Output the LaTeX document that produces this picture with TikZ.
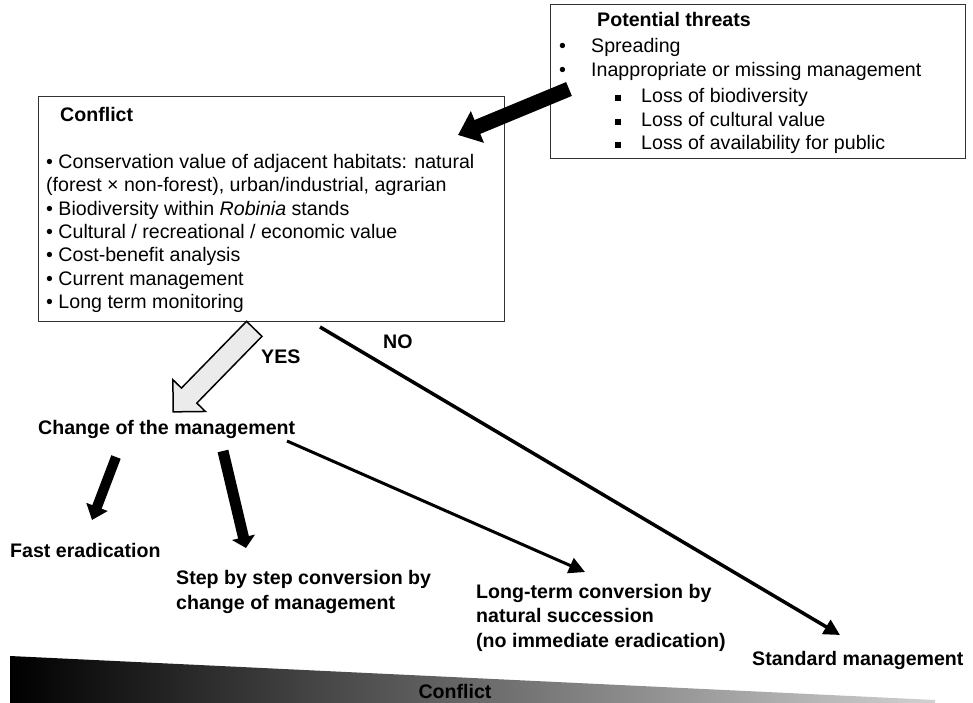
\documentclass[tikz,border=0pt]{standalone}
\usepackage{fontspec}
\setmainfont{Liberation Sans}
\usetikzlibrary{arrows.meta,shapes.arrows}

\newcommand{\sqbullet}{\rule[2pt]{6pt}{6pt}}

\tikzset{
  txt/.style={anchor=base west, inner sep=0pt, font=\fontsize{19.6}{24.5}\selectfont},
  hd/.style={txt, font=\fontsize{19.6}{24.5}\selectfont\bfseries},
  box/.style={draw=black!80, line width=1pt, anchor=north west, inner sep=0pt},
  fatarrow/.style={line width=#1, -{Triangle[length=1.4*#1, width=2.2*#1]}},
  thin/.style={line width=3.5pt, -{Triangle[length=16pt, width=16pt]}}
}

\begin{document}
\begin{tikzpicture}[x=1pt,y=-1pt]
\useasboundingbox (0,0) rectangle (973,703);

% boxes
\node [box, minimum width=415pt, minimum height=154pt] (threat) at (550,4) {};
\node [box, minimum width=466pt, minimum height=225pt] (conf) at (38,96) {};

% potential threats
\node [hd] (thead) at (597,27) {Potential threats};
\node [txt] (tb1) at (559,53) {\textbullet};
\node [txt] (ti1) at (591,53) {Spreading};
\node [txt] (tb2) at (559,77) {\textbullet};
\node [txt] (ti2) at (591,77) {Inappropriate or missing management};
\node [txt] (ts1) at (615,103) {\sqbullet};
\node [txt] (tl1) at (641,103) {Loss of biodiversity};
\node [txt] (ts2) at (615,127) {\sqbullet};
\node [txt] (tl2) at (641,127) {Loss of cultural value};
\node [txt] (ts3) at (615,150) {\sqbullet};
\node [txt] (tl3) at (641,150) {Loss of availability for public};

% conflict
\node [hd] (chead) at (60,122) {Conflict};
\node [txt] (c1) at (46,169) {\textbullet{} Conservation value of adjacent habitats: natural};
\node [txt] (c2) at (46,192) {(forest × non-forest), urban/industrial, agrarian};
\node [txt] (c3) at (46,215) {\textbullet{} Biodiversity within \textit{Robinia} stands};
\node [txt] (c4) at (46,238) {\textbullet{} Cultural / recreational / economic value};
\node [txt] (c5) at (46,261) {\textbullet{} Cost-benefit analysis};
\node [txt] (c6) at (46,285) {\textbullet{} Current management};
\node [txt] (c7) at (46,308) {\textbullet{} Long term monitoring};

% outcomes
\node [hd] (chg) at (38,434) {Change of the management};
\node [hd] (yes) at (261,363) {YES};
\node [hd] (no) at (383,348) {NO};
\node [hd] (fast) at (10,557) {Fast eradication};
\node [hd, align=left] (step) at (176,609) {Step by step conversion by\\change of management};
\node [hd, align=left] (long) at (476,647) {Long-term conversion by\\natural succession\\(no immediate eradication)};
\node [hd] (std) at (752,665) {Standard management};

% arrows
\coordinate (a1) at (569,89);
\coordinate (a2) at (458,135);
\draw [fatarrow=15pt] (a1) -- (a2);

\node [single arrow, draw, line width=1.5pt, fill=black!8, inner sep=0pt,
  text height=10pt, text depth=10pt, text width=0pt,
  minimum height=116pt, single arrow head extend=12pt,
  single arrow tip angle=90, rotate=225.7] (yesarr) at (217.5,366.5) {};

\coordinate (n1) at (320,327);
\coordinate (n2) at (840,635);
\draw [thin] (n1) -- (n2);

\coordinate (f1) at (116,457);
\coordinate (f2) at (92,520);
\draw [fatarrow=10pt] (f1) -- (f2);

\coordinate (s1) at (223,451);
\coordinate (s2) at (246,548);
\draw [line width=11pt, -{Triangle[length=11pt, width=23pt]}] (s1) -- (s2);

\coordinate (l1) at (287,441);
\coordinate (l2) at (585,572);
\draw [thin, line width=3pt] (l1) -- (l2);

% conflict wedge
\shade [left color=black, right color=black!18]
  (10,656) -- (935,700) -- (935,703) -- (10,703) -- cycle;
\node [hd, anchor=base] (grad) at (455,698) {Conflict};
\end{tikzpicture}
\end{document}
